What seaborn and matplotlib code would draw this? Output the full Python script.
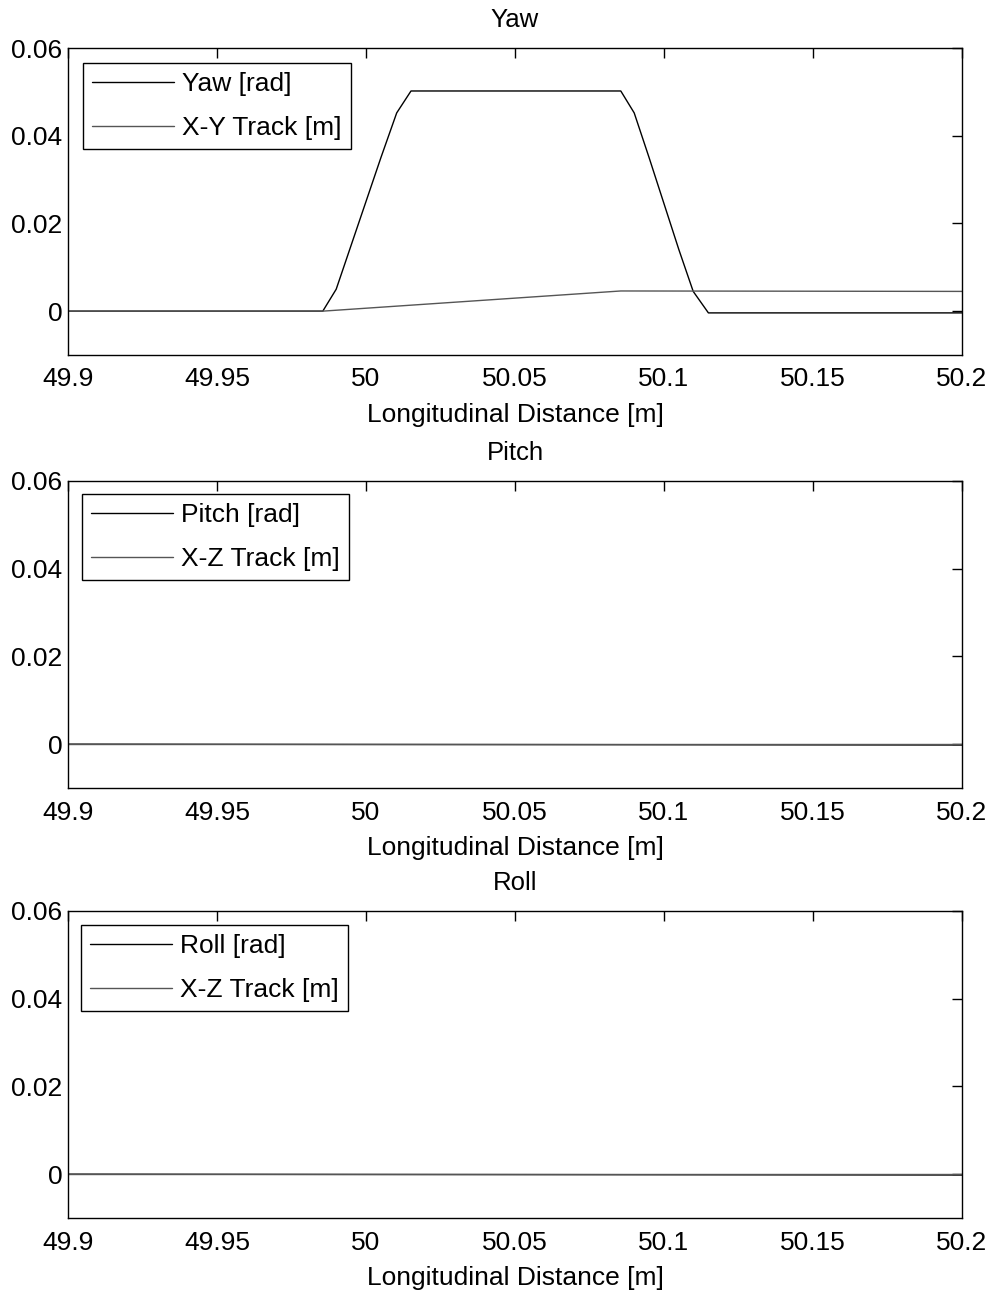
import matplotlib
matplotlib.use("Agg")
import matplotlib.pyplot as plt
import seaborn as sns
import numpy as np

# ---- data ----
yaw_x = [49.90, 49.9855, 49.990, 49.995, 50.000, 50.005, 50.0103, 50.0151, 50.0855, 50.090, 50.095, 50.100, 50.105, 50.1098, 50.1149, 50.20]
yaw_y = [0.0, 0.0, 0.0050, 0.0150, 0.0250, 0.0350, 0.0452, 0.0502, 0.0502, 0.0452, 0.0350, 0.0245, 0.0140, 0.0045, -0.0004, -0.0004]

xy_track_x = [49.90, 49.9855, 50.0855, 50.20]
xy_track_y = [0.0, 0.0, 0.0046, 0.0045]

pitch_x = [49.90, 50.20]
pitch_y = [0.0, -0.0002]
xz_track_x = [49.90, 50.20]
xz_track_y = [0.0, 0.0]

roll_x = [49.90, 50.20]
roll_y = [0.0, -0.0002]
xz_track2_x = [49.90, 50.20]
xz_track2_y = [0.0, 0.0]

titles = ["Yaw", "Pitch", "Roll"]
labels1 = ["Yaw [rad]", "Pitch [rad]", "Roll [rad]"]
labels2 = ["X-Y Track [m]", "X-Z Track [m]", "X-Z Track [m]"]
xticks = [49.9, 49.95, 50.0, 50.05, 50.1, 50.15, 50.2]
xticklabels = ["49.9", "49.95", "50", "50.05", "50.1", "50.15", "50.2"]
yticks = [0.0, 0.02, 0.04, 0.06]
yticklabels = ["0", "0.02", "0.04", "0.06"]
xlabel = "Longitudinal Distance [m]"

sns.set_theme(style="white")
plt.rcParams['font.family'] = ['Liberation Sans', 'DejaVu Sans']
plt.rcParams['text.color'] = 'black'
plt.rcParams['axes.labelcolor'] = 'black'
plt.rcParams['axes.edgecolor'] = 'black'
plt.rcParams['axes.linewidth'] = 1.0

fig = plt.figure(figsize=(9.97, 12.91), dpi=100)
W, H = 997, 1291
left, right = 68, 962
tops = [48, 481, 911]
ah = 307

series = [
    (yaw_x, yaw_y, xy_track_x, xy_track_y),
    (pitch_x, pitch_y, xz_track_x, xz_track_y),
    (roll_x, roll_y, xz_track2_x, xz_track2_y),
]
legend_anchor = [(83, 63), (82, 494), (81, 925)]

for i in range(3):
    t = tops[i]
    ax = fig.add_axes([left / W, 1 - (t + ah) / H, (right - left) / W, ah / H])
    x1, y1, x2, y2 = series[i]
    sns.lineplot(x=x1, y=y1, ax=ax, color='black', lw=1.0, label=labels1[i],
                 estimator=None, sort=False)
    sns.lineplot(x=x2, y=y2, ax=ax, color='#555555', lw=1.0, label=labels2[i],
                 estimator=None, sort=False)
    ax.set_xlim(49.9, 50.2)
    ax.set_ylim(-0.01, 0.06)
    ax.set_xticks(xticks)
    ax.set_xticklabels(xticklabels)
    ax.set_yticks(yticks)
    ax.set_yticklabels(yticklabels)
    ax.tick_params(direction='in', length=7, width=1, top=True, right=True,
                   labelsize=19, colors='black')
    ax.tick_params(axis='x', pad=9)
    ax.tick_params(axis='y', pad=4)
    ax.set_xlabel(xlabel, fontsize=19, color='black', labelpad=8)
    ax.set_title(titles[i], fontsize=18.5, color='black', pad=15)
    for s in ax.spines.values():
        s.set_visible(True)
        s.set_color('black')
    lx, ly = legend_anchor[i]
    leg = ax.legend(loc='upper left',
                    bbox_to_anchor=((lx - left) / (right - left), 1 - (ly - t) / ah),
                    borderaxespad=0, fontsize=19, handlelength=3.1, handletextpad=0.3,
                    labelspacing=0.75, borderpad=0.35, fancybox=False, frameon=True,
                    edgecolor='black', framealpha=1)
    leg.get_frame().set_linewidth(1.0)

fig.savefig("out.png", dpi=100, facecolor='white')
